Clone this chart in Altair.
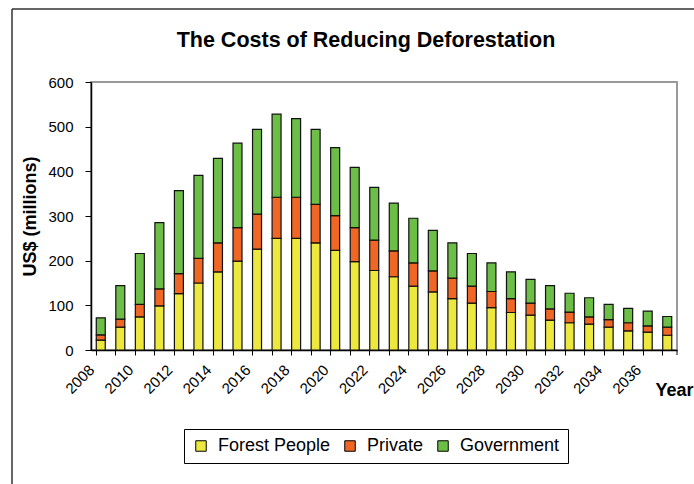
import altair as alt
import pandas as pd

years = list(range(2008, 2038))
forest_people = [22, 51, 74, 99, 126, 150, 175, 199, 226, 250, 250, 240, 223, 198, 178,
                 164, 143, 130, 115, 105, 95, 84, 78, 67, 61, 58, 51, 43, 40, 33]
private = [12, 18, 28, 38, 45, 55, 65, 75, 78, 92, 92, 86, 78, 76, 68,
           58, 52, 47, 46, 38, 36, 31, 27, 25, 24, 16, 17, 18, 14, 18]
government = [38, 75, 114, 148, 186, 186, 189, 189, 190, 186, 176, 168, 152, 135, 118,
              107, 100, 91, 79, 73, 64, 60, 53, 52, 42, 43, 34, 32, 33, 24]
series_names = ["Forest People", "Private", "Government"]
series_colors = ["#ECE83E", "#EF6625", "#6CBE46"]
y_ticks = [0, 100, 200, 300, 400, 500, 600]
chart_title = "The Costs of Reducing Deforestation"

rows = []
for i, y in enumerate(years):
    for k, (name, vals) in enumerate(zip(series_names, [forest_people, private, government])):
        rows.append({"Year": y, "Series": name, "value": vals[i], "order": k})
df = pd.DataFrame(rows)

FONT = "Liberation Sans"

bars = alt.Chart(df).mark_bar(stroke="#111111", strokeWidth=1.2).encode(
    x=alt.X(
        "Year:O",
        scale=alt.Scale(paddingInner=0.54, paddingOuter=0.27),
        axis=alt.Axis(
            bandPosition=0,
            labelAngle=-45,
            labelAlign="right",
            labelBaseline="middle",
            labelExpr="datum.value % 2 == 0 ? datum.label : ''",
            labelFontSize=15,
            labelPadding=12,
            labelOffset=-9,
            labelColor="black",
            tickSize=5,
            tickColor="black",
            domainColor="black",
            domainWidth=1.5,
            title="Year",
            titleFontSize=18,
            titleFontWeight="bold",
            titleX=564,
            titleY=40,
            titleAlign="left",
            titleBaseline="middle",
            titleAnchor="start",
        ),
    ),
    y=alt.Y(
        "value:Q",
        scale=alt.Scale(domain=[0, 600]),
        axis=alt.Axis(
            values=y_ticks,
            grid=False,
            tickSize=6,
            tickColor="black",
            domainColor="black",
            domainWidth=1.5,
            labelFontSize=15,
            labelColor="black",
            labelPadding=12,
            title="US$ (millions)",
            titleFontSize=18,
            titleFontWeight="bold",
            titlePadding=8,
        ),
    ),
    color=alt.Color(
        "Series:N",
        scale=alt.Scale(domain=series_names, range=series_colors),
        legend=alt.Legend(
            title=None,
            orient="none",
            legendX=93,
            legendY=347,
            direction="horizontal",
            strokeColor="black",
            padding=8,
            symbolType="square",
            symbolSize=110,
            symbolStrokeColor="black",
            symbolStrokeWidth=1,
            symbolOpacity=1,
            labelFontSize=18,
            labelColor="black",
            labelOffset=8,
            columnPadding=10,
        ),
    ),
    order=alt.Order("order:Q"),
)

one = pd.DataFrame({"a": [0]})
title_text = alt.Chart(one).mark_text(
    text=chart_title, fontSize=21.5, fontWeight="bold", font=FONT, color="black",
    align="center", baseline="alphabetic",
).encode(x=alt.value(275), y=alt.value(-35))
frame_left = alt.Chart(one).mark_rule(color="#333333", strokeWidth=1.5).encode(
    x=alt.value(-79), y=alt.value(-73), y2=alt.value(420)
)
frame_top = alt.Chart(one).mark_rule(color="#333333", strokeWidth=1.5).encode(
    x=alt.value(-79), x2=alt.value(620), y=alt.value(-73)
)
end_tick = alt.Chart(one).mark_rule(color="black", strokeWidth=1).encode(
    x=alt.value(586), y=alt.value(268), y2=alt.value(273)
)

chart = alt.layer(bars, title_text, frame_left, frame_top, end_tick).properties(
    width=586,
    height=268,
    autosize=alt.AutoSizeParams(type="none"),
    padding={"left": 91, "top": 82, "right": 17, "bottom": 134},
).configure(font=FONT, background="white").configure_view(
    stroke="#9a9a9a", strokeWidth=2
).configure_axis(labelFont=FONT, titleFont=FONT, titleColor="black").configure_legend(
    labelFont=FONT
)

chart.save("out.html", embed_options={"renderer": "svg", "actions": False})
